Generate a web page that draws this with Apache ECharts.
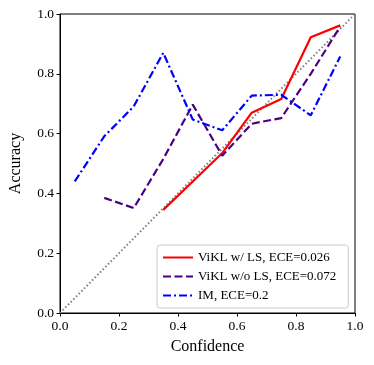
<!DOCTYPE html>
<html>
<head>
<meta charset="utf-8">
<script src="https://cdn.jsdelivr.net/npm/echarts@6/dist/echarts.min.js"></script>
<style>
  html, body { margin: 0; padding: 0; background: #fff; }
  #chart { width: 374px; height: 365px; }
</style>
</head>
<body>
<div id="chart"></div>
<script>
// bin centres and per-bin accuracy
const binConf = [0.05, 0.15, 0.25, 0.35, 0.45, 0.55, 0.65, 0.75, 0.85, 0.95]
const vikLS = [null, null, null, 0.345, 0.44, 0.535, 0.67, 0.716, 0.922, 0.962]
const vikNoLS = [null, 0.385, 0.351, 0.515, 0.697, 0.526, 0.633, 0.652, 0.80, 0.958]
const imAcc = [0.44, 0.591, 0.691, 0.870, 0.647, 0.611, 0.727, 0.730, 0.661, 0.858]
const tickVals = [0, 0.2, 0.4, 0.6, 0.8, 1.0]
const seriesNames = ['ViKL w/ LS, ECE=0.026', 'ViKL w/o LS, ECE=0.072', 'IM, ECE=0.2']

const font = 'Liberation Serif, Times New Roman, serif'

function pairs (ys) {
  return binConf.map((x, i) => [x, ys[i]]).filter(p => p[1] !== null)
}

const axisCommon = {
  type: 'value',
  min: tickVals[0],
  max: tickVals[tickVals.length - 1],
  interval: 0.2,
  nameLocation: 'middle',
  nameTextStyle: { fontFamily: font, fontSize: 16, color: '#000' },
  axisLine: { show: true, lineStyle: { color: '#000', width: 1 } },
  axisTick: { show: true, length: 3.5, lineStyle: { color: '#000' } },
  axisLabel: {
    fontFamily: font,
    fontSize: 13.5,
    color: '#000',
    margin: 6,
    formatter: v => v.toFixed(1)
  },
  splitLine: { show: false }
}

const chart = echarts.init(document.getElementById('chart'))
chart.setOption({
  animation: false,
  grid: {
    left: 56, right: 19, top: 14, bottom: 52,
    show: true, borderColor: '#000', borderWidth: 1
  },
  xAxis: Object.assign({}, axisCommon, { name: 'Confidence', nameGap: 26 }),
  yAxis: Object.assign({}, axisCommon, { name: 'Accuracy', nameGap: 36 }),
  legend: {
    orient: 'vertical',
    left: 157,
    top: 245,
    padding: [6, 12, 6, 5],
    itemGap: 6,
    itemWidth: 30,
    itemHeight: 14,
    itemStyle: { opacity: 0 },
    backgroundColor: 'rgba(255,255,255,0.8)',
    borderColor: '#ccc',
    borderWidth: 1,
    borderRadius: 3,
    textStyle: { fontFamily: font, fontSize: 13, color: '#000' },
    data: seriesNames
  },
  series: [
    {
      type: 'line',
      data: [[0, 0], [1, 1]],
      symbol: 'none',
      silent: true,
      lineStyle: { color: '#808080', width: 2, type: [1.5, 2.3] },
      z: 1
    },
    {
      name: seriesNames[0],
      type: 'line',
      data: pairs(vikLS),
      symbol: 'none',
      itemStyle: { color: '#ff0000' },
      lineStyle: { color: '#ff0000', width: 2.2 }
    },
    {
      name: seriesNames[1],
      type: 'line',
      data: pairs(vikNoLS),
      symbol: 'none',
      itemStyle: { color: '#4b0082' },
      lineStyle: { color: '#4b0082', width: 2.2, type: [8, 3.5] }
    },
    {
      name: seriesNames[2],
      type: 'line',
      data: pairs(imAcc),
      symbol: 'none',
      itemStyle: { color: '#0000ff' },
      lineStyle: { color: '#0000ff', width: 2.2, type: [8, 3, 2, 3] }
    }
  ]
})
</script>
</body>
</html>
